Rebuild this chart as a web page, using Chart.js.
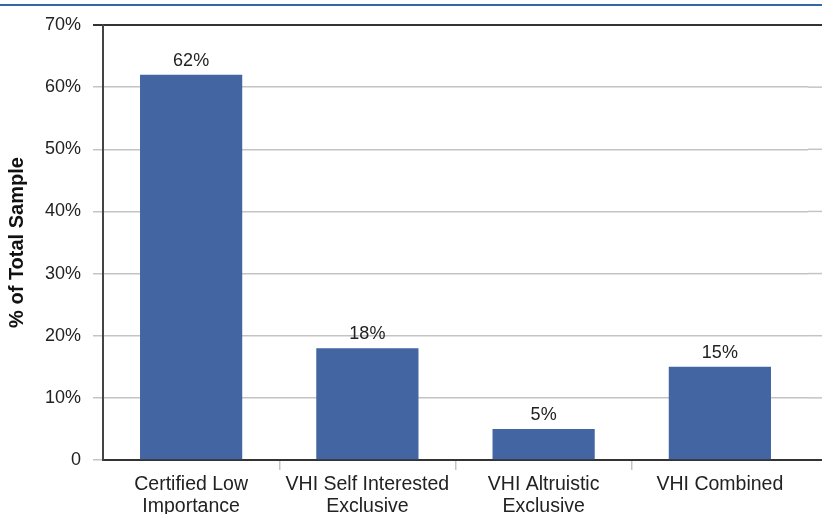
<!DOCTYPE html>
<html>
<head>
<meta charset="utf-8">
<script src="https://cdn.jsdelivr.net/npm/chart.js@4/dist/chart.umd.min.js"></script>
<style>
  html, body { margin: 0; padding: 0; background: #fff; }
  #wrap { width: 822px; height: 514px; position: relative; }
</style>
</head>
<body>
<div id="wrap"><canvas id="c" width="822" height="514"></canvas></div>
<script>
// Share of the total sample in each group
const categories = [
  ['Certified Low', 'Importance'],
  ['VHI Self Interested', 'Exclusive'],
  ['VHI Altruistic', 'Exclusive'],
  'VHI Combined'
];
const shares = [62, 18, 5, 15];
const yTicks = [0, 10, 20, 30, 40, 50, 60, 70];

const FONT = '"Liberation Sans", Arial, sans-serif';
const BAR_BLUE = '#4366A3';
const GRID_GREY = '#C4C4C4';

// Thin blue rule across the top of the figure
const topRule = {
  id: 'topRule',
  beforeDraw(chart) {
    const ctx = chart.ctx;
    ctx.save();
    ctx.strokeStyle = '#3468A2';
    ctx.lineWidth = 2;
    ctx.beginPath();
    ctx.moveTo(0, 5);
    ctx.lineTo(chart.width, 5);
    ctx.stroke();
    ctx.restore();
  }
};

// Horizontal rules keep running past the last category to the right edge
const gridRunout = {
  id: 'gridRunout',
  beforeDatasetsDraw(chart) {
    const ctx = chart.ctx;
    const y = chart.scales.y;
    const x0 = chart.chartArea.right;
    ctx.save();
    yTicks.forEach(v => {
      const py = y.getPixelForValue(v);
      const edge = v === 0 || v === 70;
      ctx.strokeStyle = edge ? '#333' : GRID_GREY;
      ctx.lineWidth = edge ? 2 : 1.5;
      ctx.beginPath();
      ctx.moveTo(x0, py);
      ctx.lineTo(chart.width, py);
      ctx.stroke();
    });
    ctx.restore();
  }
};

// Value labels above each bar
const barValues = {
  id: 'barValues',
  afterDatasetsDraw(chart) {
    const ctx = chart.ctx;
    const meta = chart.getDatasetMeta(0);
    ctx.save();
    ctx.font = '18px ' + FONT;
    ctx.fillStyle = '#222';
    ctx.textAlign = 'center';
    ctx.textBaseline = 'bottom';
    meta.data.forEach((bar, i) => {
      ctx.fillText(shares[i] + '%', bar.x, bar.y - 5);
    });
    ctx.restore();
  }
};

new Chart(document.getElementById('c'), {
  type: 'bar',
  data: {
    labels: categories,
    datasets: [{
      data: shares,
      backgroundColor: BAR_BLUE,
      borderWidth: 0,
      barPercentage: 0.58,
      categoryPercentage: 1
    }]
  },
  options: {
    responsive: false,
    animation: false,
    devicePixelRatio: 1,
    layout: { padding: { top: 25, right: 14, left: 0, bottom: 0 } },
    plugins: {
      legend: { display: false },
      tooltip: { enabled: false }
    },
    scales: {
      x: {
        offset: true,
        afterFit(scale) { scale.height = 54; },
        grid: {
          offset: true,
          drawOnChartArea: false,
          drawTicks: true,
          tickLength: 10,
          lineWidth: 1.5,
          // only the separators between categories get a tick mark
          color: ctx => (ctx.index > 0 && ctx.index < categories.length) ? GRID_GREY : 'rgba(0,0,0,0)'
        },
        border: { display: true, color: '#333', width: 2 },
        ticks: {
          padding: 4,
          color: '#222',
          font: { family: FONT, size: 19.5, lineHeight: '22px' },
          maxRotation: 0,
          autoSkip: false
        }
      },
      y: {
        min: 0,
        max: 70,
        afterFit(scale) { scale.width = 103; },
        afterBuildTicks(scale) { scale.ticks = yTicks.map(v => ({ value: v })); },
        grid: {
          tickLength: 10,
          lineWidth: ctx => (ctx.tick && ctx.tick.value === 70) ? 2 : 1.5,
          color: ctx => (ctx.tick && ctx.tick.value === 70) ? '#333' : GRID_GREY
        },
        border: { display: true, color: '#444', width: 2 },
        ticks: {
          padding: 12,
          color: '#222',
          font: { family: FONT, size: 18 },
          callback: v => v === 0 ? '0' : v + '%'
        },
        title: {
          display: true,
          text: '% of Total Sample',
          color: '#111',
          font: { family: FONT, size: 20, weight: 'bold' },
          padding: { top: 5, bottom: 0 }
        }
      }
    }
  },
  plugins: [topRule, gridRunout, barValues]
});
</script>
</body>
</html>
